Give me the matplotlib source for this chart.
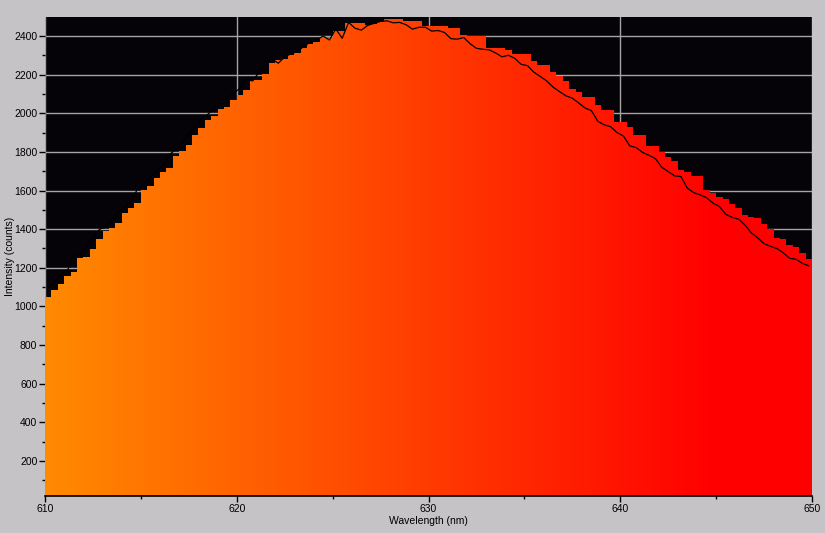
import numpy as np
import matplotlib
matplotlib.use('Agg')
import matplotlib.pyplot as plt
from matplotlib.colors import LinearSegmentedColormap
from matplotlib.ticker import MultipleLocator

plt.rcParams['font.family'] = ['Liberation Sans', 'DejaVu Sans']

wl_start = 610
wl_end = 650
n_bins = 120

# bar heights (counts), one per 1/3 nm bin
bar_counts = [1047, 1085, 1116, 1158, 1178, 1250, 1255, 1297, 1347, 1390,
              1406, 1432, 1484, 1508, 1535, 1603, 1625, 1665, 1696, 1717,
              1779, 1805, 1834, 1886, 1924, 1964, 1987, 2020, 2034, 2068,
              2095, 2121, 2172, 2172, 2205, 2259, 2274, 2283, 2300, 2312,
              2338, 2360, 2369, 2395, 2395, 2428, 2428, 2466, 2466, 2466,
              2457, 2460, 2474, 2488, 2488, 2488, 2479, 2479, 2479, 2452,
              2452, 2452, 2452, 2440, 2440, 2405, 2400, 2400, 2400, 2340,
              2336, 2336, 2328, 2307, 2307, 2307, 2270, 2250, 2250, 2214,
              2193, 2167, 2126, 2108, 2084, 2084, 2043, 2017, 2017, 1953,
              1953, 1927, 1888, 1888, 1831, 1831, 1798, 1775, 1755, 1706,
              1696, 1677, 1677, 1603, 1589, 1565, 1558, 1530, 1510, 1472,
              1465, 1459, 1427, 1400, 1353, 1349, 1318, 1308, 1278, 1247]

# current spectrum (black trace), at bin centres
line_counts = [1093, 1124, 1166, 1186, 1258, 1263, 1305, 1355, 1398, 1414,
               1440, 1492, 1516, 1543, 1611, 1633, 1673, 1704, 1725, 1787,
               1813, 1842, 1894, 1932, 1972, 1995, 2028, 2042, 2076, 2103,
               2129, 2175, 2167, 2213, 2267, 2280, 2259, 2291, 2308, 2320,
               2346, 2368, 2377, 2400, 2379, 2436, 2388, 2470, 2440, 2430,
               2455, 2465, 2476, 2478, 2468, 2470, 2458, 2435, 2445, 2445,
               2425, 2428, 2418, 2386, 2383, 2392, 2360, 2336, 2331, 2328,
               2312, 2292, 2300, 2284, 2253, 2246, 2212, 2190, 2167, 2135,
               2112, 2090, 2078, 2053, 2027, 2013, 1958, 1940, 1930, 1900,
               1882, 1831, 1822, 1797, 1782, 1765, 1720, 1698, 1676, 1672,
               1612, 1589, 1577, 1563, 1535, 1518, 1477, 1461, 1452, 1422,
               1381, 1355, 1325, 1311, 1300, 1278, 1249, 1244, 1223, 1210]

edges = np.linspace(wl_start, wl_end, n_bins + 1)
centers = (edges[:-1] + edges[1:]) / 2

fig = plt.figure(figsize=(8.25, 5.33), dpi=100)
fig.patch.set_facecolor('#c5c3c5')
ax = fig.add_axes([45/825, 37/533, 767/825, 479/533])
ax.set_facecolor('#050307')

# orange -> red gradient, clipped to the stepped bars
spec = LinearSegmentedColormap.from_list('spec', [(0, '#ff8a00'), (0.875, '#ff0000'), (1, '#ff0000')])
grad = np.linspace(0, 1, 800).reshape(1, -1)
im = ax.imshow(grad, cmap=spec, extent=[wl_start, wl_end, 0, 2600],
               aspect='auto', interpolation='bilinear', zorder=2)
steps = ax.fill_between(edges, 0, bar_counts + [bar_counts[-1]], step='post',
                        facecolor='none', edgecolor='none')
im.set_clip_path(steps.get_paths()[0], transform=ax.transData)

ax.plot(centers, line_counts, color='black', lw=0.9, zorder=3)

ax.set_xlim(wl_start, wl_end)
ax.set_ylim(19, 2498)

ax.xaxis.set_major_locator(MultipleLocator(10))
ax.xaxis.set_minor_locator(MultipleLocator(5))
ax.yaxis.set_major_locator(MultipleLocator(200))
ax.yaxis.set_minor_locator(MultipleLocator(100))
ax.grid(True, which='major', color='#a4a4a4', lw=1)
ax.set_axisbelow(True)

ax.tick_params(which='major', direction='out', length=4, width=1, colors='black',
               labelsize=7.5, pad=1.5)
ax.tick_params(which='minor', direction='out', length=2.5, width=1, colors='black')

for s in ['top', 'right', 'left']:
    ax.spines[s].set_visible(False)
ax.spines['bottom'].set_color('black')
ax.spines['bottom'].set_linewidth(1.2)

fig.text(428/825, 1 - 521/533, 'Wavelength (nm)', ha='center', va='center', fontsize=7.5)
fig.text(10/825, 1 - 256/533, 'Intensity (counts)', ha='center', va='center',
         rotation=90, fontsize=7.5)

fig.savefig('out.png', dpi=100, facecolor=fig.get_facecolor())
